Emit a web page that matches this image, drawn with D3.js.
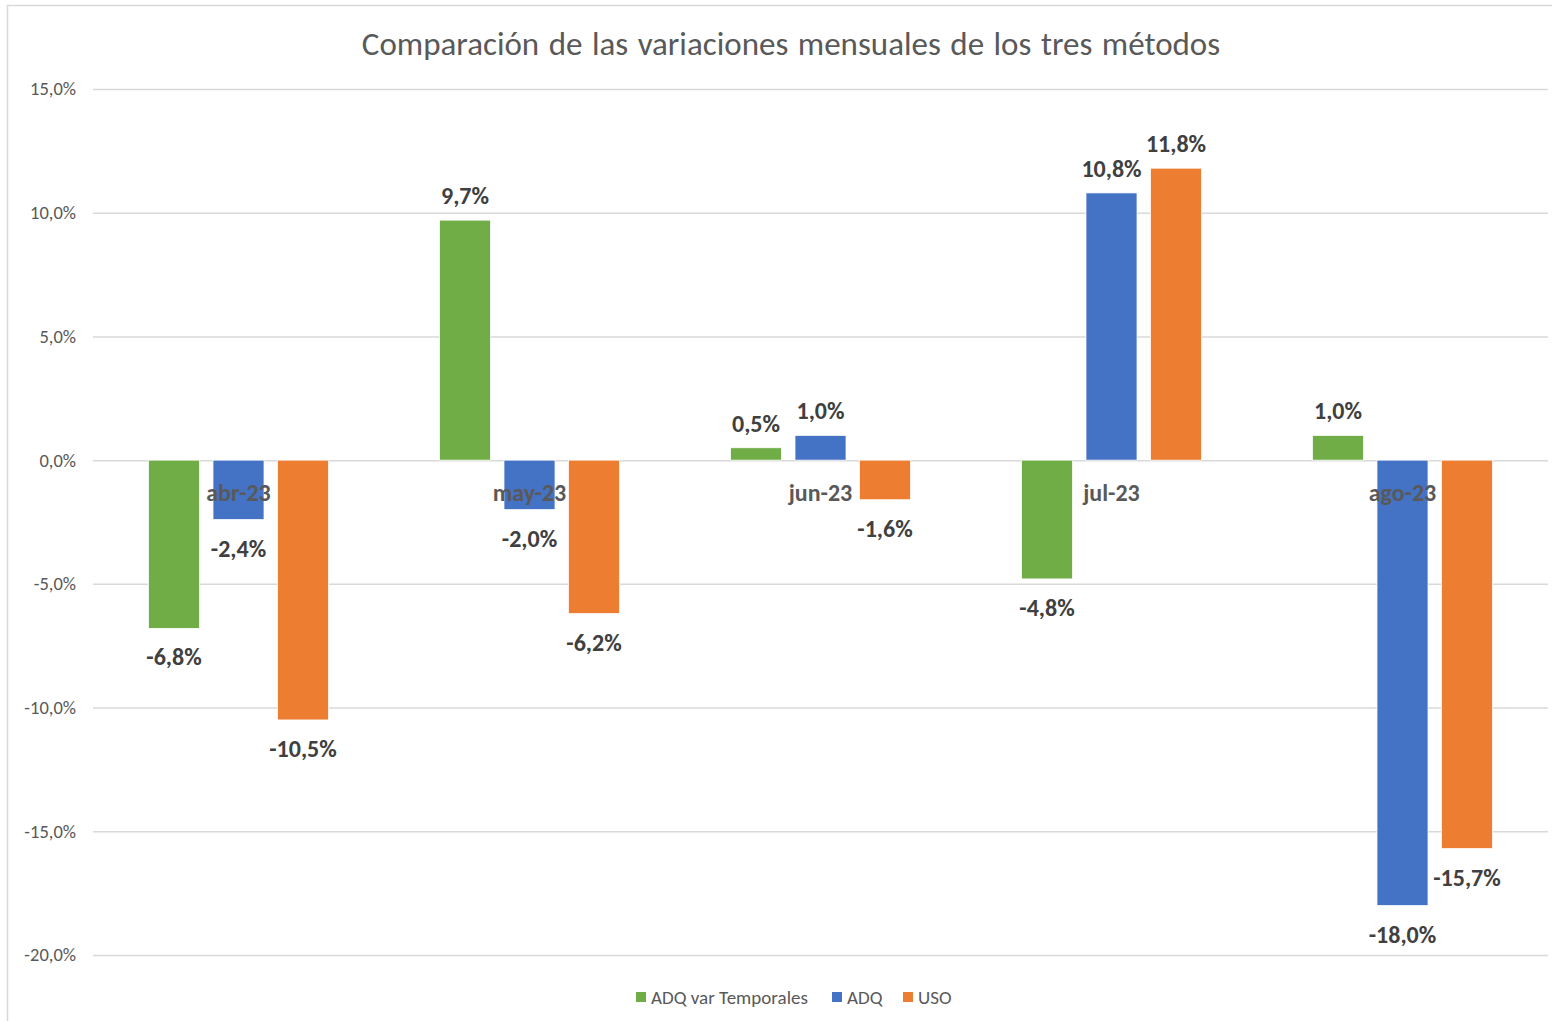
<!DOCTYPE html>
<html>
<head>
<meta charset="utf-8">
<script src="https://cdn.jsdelivr.net/npm/d3@7"></script>
<style>
  html, body { margin: 0; padding: 0; background: #fff; }
  svg { display: block; font-family: Carlito, Calibri, Lato, sans-serif; }
</style>
</head>
<body>
<div id="chart"></div>
<script>
// chart data
const months = ["abr-23", "may-23", "jun-23", "jul-23", "ago-23"];
const seriesNames = ["ADQ var Temporales", "ADQ", "USO"];
const adqVarTemporales = [-6.8, 9.7, 0.5, -4.8, 1.0];
const adq = [-2.4, -2.0, 1.0, 10.8, -18.0];
const uso = [-10.5, -6.2, -1.6, 11.8, -15.7];
const yTicks = [15, 10, 5, 0, -5, -10, -15, -20];

const colors = { "ADQ var Temporales": "#70ad47", "ADQ": "#4472c4", "USO": "#ed7d31" };
const seriesValues = { "ADQ var Temporales": adqVarTemporales, "ADQ": adq, "USO": uso };

const width = 1552, height = 1021;
const margin = { top: 89, right: 4, bottom: 66, left: 93 };

const fmt = v => v.toFixed(1).replace(".", ",") + "%";

const svg = d3.select("#chart").append("svg")
  .attr("width", width)
  .attr("height", height);

// outer frame
svg.append("rect")
  .attr("x", 7.5).attr("y", 5.5)
  .attr("width", width).attr("height", height)
  .attr("fill", "none")
  .attr("stroke", "#d9d9d9")
  .attr("stroke-width", 1.5);

const y = d3.scaleLinear()
  .domain([-20, 15])
  .range([height - margin.bottom, margin.top]);

const x0 = d3.scaleBand()
  .domain(months)
  .range([margin.left, width - margin.right]);

const groupW = 180;
const x1 = d3.scaleBand()
  .domain(seriesNames)
  .range([0, groupW])
  .paddingInner(0.209);

// title
svg.append("text")
  .attr("x", 791).attr("y", 55)
  .attr("text-anchor", "middle")
  .attr("font-size", 33)
  .attr("word-spacing", 2)
  .attr("fill", "#595959")
  .text("Comparación de las variaciones mensuales de los tres métodos");

// gridlines + y axis
const yAxis = d3.axisLeft(y)
  .tickValues(yTicks)
  .tickSize(-(width - margin.right - margin.left))
  .tickPadding(17)
  .tickFormat(fmt);

const gy = svg.append("g")
  .attr("transform", `translate(${margin.left},0)`)
  .call(yAxis);
gy.select(".domain").remove();
gy.selectAll(".tick line").attr("stroke", "#d9d9d9").attr("stroke-width", 1.5);
gy.selectAll(".tick text")
  .attr("fill", "#595959")
  .attr("font-size", 18.5)
  .attr("font-family", "Carlito, Calibri, Lato, sans-serif");

// bars
const groups = svg.append("g").selectAll("g")
  .data(months)
  .join("g")
    .attr("transform", m => `translate(${x0(m) + (x0.bandwidth() - groupW) / 2},0)`);

const cells = groups.selectAll("g")
  .data((m, i) => seriesNames.map(s => ({ month: m, series: s, value: seriesValues[s][i] })))
  .join("g");

cells.append("rect")
  .attr("x", d => x1(d.series))
  .attr("width", x1.bandwidth())
  .attr("y", d => y(Math.max(0, d.value)))
  .attr("height", d => Math.abs(y(d.value) - y(0)))
  .attr("fill", d => colors[d.series])
  .attr("stroke", "#fff")
  .attr("stroke-width", 0.75);

// category labels (sit on the zero line, drawn over bars)
svg.append("g").selectAll("text")
  .data(months)
  .join("text")
    .attr("x", m => x0(m) + x0.bandwidth() / 2)
    .attr("y", y(0) + 41)
    .attr("text-anchor", "middle")
    .attr("font-size", 24)
    .attr("font-weight", "bold")
    .attr("fill", "#595959")
    .text(m => m);

// value labels
cells.append("text")
  .attr("x", d => x1(d.series) + x1.bandwidth() / 2)
  .attr("y", d => d.value >= 0 ? y(d.value) - 16 : y(d.value) + 37)
  .attr("text-anchor", "middle")
  .attr("font-size", 24)
  .attr("font-weight", "bold")
  .attr("fill", "#404040")
  .text(d => fmt(d.value));

// legend
const legendItems = [
  { name: "ADQ var Temporales", x: 636 },
  { name: "ADQ", x: 832 },
  { name: "USO", x: 903 }
];
const lg = svg.append("g").selectAll("g")
  .data(legendItems)
  .join("g")
    .attr("transform", d => `translate(${d.x},997)`);
lg.append("rect")
  .attr("x", 0).attr("y", -5)
  .attr("width", 10).attr("height", 10)
  .attr("fill", d => colors[d.name]);
lg.append("text")
  .attr("x", 15).attr("y", 6.5)
  .attr("font-size", 19)
  .attr("fill", "#595959")
  .text(d => d.name);
</script>
</body>
</html>
